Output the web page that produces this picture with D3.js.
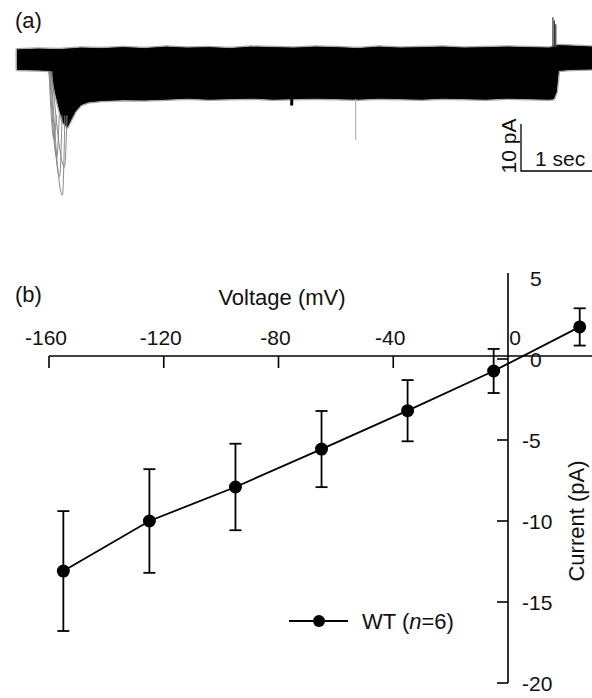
<!DOCTYPE html>
<html>
<head>
<meta charset="utf-8">
<script src="https://cdn.jsdelivr.net/npm/d3@7"></script>
<style>
  html, body { margin: 0; padding: 0; background: #fff; }
  svg { display: block; }
  text { font-family: "Liberation Sans", Arial, Helvetica, sans-serif; fill: #111; }
</style>
</head>
<body>
<svg id="chart" width="592" height="698"></svg>
<script>
// ---------- Panel (b) data: I-V relation ----------
const voltages = [-155, -125, -95, -65, -35, -5, 25];           // mV
const currents = [-13.09, -10.0, -7.9, -5.56, -3.19, -0.74, 1.98]; // pA
const sems     = [3.7, 3.2, 2.67, 2.35, 1.89, 1.36, 1.15];      // pA
const xTicks = [-160, -120, -80, -40, 0];
const yTicks = [-20, -15, -10, -5, 0, 5];
const seriesName = "WT";

// ---------- Panel (a) data: current trace envelope ----------
const upperTime = [0, 0.3, 0.6, 0.9, 1.2, 1.5, 1.8, 2.1, 2.4, 2.7, 3.0, 3.3, 3.6, 3.9, 4.2, 4.5, 4.8, 5.1, 5.4, 5.7, 6.0, 6.3, 6.6, 6.9, 7.2, 7.5, 7.56, 7.62, 7.8, 8.1];
const upperVal  = [2.0, 2.2, 2.1, 2.4, 2.3, 2.5, 2.3, 2.6, 2.4, 2.5, 2.3, 2.6, 2.5, 2.4, 2.6, 2.5, 2.3, 2.6, 2.4, 2.5, 2.6, 2.4, 2.5, 2.6, 2.5, 2.4, 2.6, 2.9, 2.8, 2.6];
const lowerTime = [0, 0.3, 0.45, 0.5, 0.55, 0.6, 0.65, 0.71, 0.76, 0.82, 0.9, 1.0, 1.2, 1.5, 1.8, 2.1, 2.4, 2.7, 3.0, 3.3, 3.6, 3.9, 4.2, 4.5, 4.8, 5.1, 5.4, 5.7, 6.0, 6.3, 6.6, 6.9, 7.2, 7.5, 7.56, 7.6, 7.63, 7.8, 8.1];
const lowerVal  = [-2.3, -2.4, -2.5, -4.5, -8.0, -11.0, -13.5, -14.5, -13.0, -11.2, -9.8, -9.2, -8.9, -8.7, -8.8, -8.6, -8.4, -8.6, -8.5, -8.4, -8.6, -8.5, -8.4, -8.5, -8.6, -8.4, -8.5, -8.6, -8.4, -8.5, -8.6, -8.4, -8.5, -8.6, -8.5, -7.0, -2.5, -2.3, -2.2];
// transient sweeps: start time, time of minimum, minimum current
const sweepStart = [0.45, 0.46, 0.47, 0.48, 0.49];
const sweepMinT  = [0.52, 0.56, 0.60, 0.64, 0.67];
const sweepMinI  = [-17, -21, -25, -29, -23];
// isolated events: time, from, to
const eventT    = [3.87, 4.77, 7.55, 7.57, 7.59];
const eventFrom = [-8.4, -8.5, 2.5, 2.5, 2.5];
const eventTo   = [-9.9, -17.2, 8.9, 8.2, 7.4];
const eventKind = ["blip", "faint", "spike", "spike", "spike"];

const svg = d3.select("#chart");

// ================= Panel (a) =================
const xT = d3.scaleLinear().domain([0, 8.1]).range([17, 592]);
const yT = d3.scaleLinear().domain([-30, 10]).range([200, 12]);

svg.append("text").attr("x", 15).attr("y", 28).style("font-size", "22px").text("(a)");

const upper = upperTime.map((t, i) => [t, upperVal[i]]);
const lower = lowerTime.map((t, i) => [t, lowerVal[i]]);
const bandPts = upper.concat(lower.slice().reverse());

// fuzzy fringe
svg.append("path")
  .attr("d", d3.line().x(d => xT(d[0])).y(d => yT(d[1]))(bandPts) + "Z")
  .attr("fill", "#000").attr("stroke", "#222").attr("stroke-width", 3)
  .attr("stroke-opacity", 0.4).attr("stroke-linejoin", "round");
// core band
svg.append("path")
  .attr("d", d3.line().x(d => xT(d[0])).y(d => yT(d[1]))(bandPts) + "Z")
  .attr("fill", "#000");

// transient sweeps
sweepStart.forEach((t0, i) => {
  const pts = [[t0, -2.6], [sweepMinT[i], sweepMinI[i]], [sweepMinT[i] + 0.035, -12]];
  svg.append("path")
    .attr("d", d3.line().x(d => xT(d[0])).y(d => yT(d[1])).curve(d3.curveMonotoneX)(pts))
    .attr("fill", "none").attr("stroke", "#8a8a8a").attr("stroke-width", 1);
});

// isolated events
eventT.forEach((t, i) => {
  const k = eventKind[i];
  svg.append("line")
    .attr("x1", xT(t)).attr("x2", xT(t))
    .attr("y1", yT(eventFrom[i])).attr("y2", yT(eventTo[i]))
    .attr("stroke", k === "faint" ? "#b5b5b5" : (k === "blip" ? "#000" : "#333"))
    .attr("stroke-width", k === "blip" ? 3 : 1.2);
});

// scale bar: 10 pA vertical, 1 sec horizontal
const sbX = 521, sbY = 171;
const pxPerPA = yT(0) - yT(1);
const pxPerSec = xT(1) - xT(0);
svg.append("path")
  .attr("d", `M${sbX},${sbY - 10 * pxPerPA}V${sbY}H${sbX + pxPerSec}`)
  .attr("fill", "none").attr("stroke", "#000").attr("stroke-width", 1.3);
svg.append("text")
  .attr("transform", `translate(${sbX - 5},${sbY - 25}) rotate(-90)`)
  .attr("text-anchor", "middle").style("font-size", "21px").text("10 pA");
svg.append("text").attr("x", sbX + 14).attr("y", sbY - 5)
  .style("font-size", "21px").text("1 sec");

// ================= Panel (b) =================
const x = d3.scaleLinear().domain([-160, 0]).range([49, 508]);
const y = d3.scaleLinear().domain([-20, 5]).range([683, 278]);
const axisY = 356;

svg.append("text").attr("x", 15).attr("y", 302).style("font-size", "22px").text("(b)");
svg.append("text").attr("x", 282).attr("y", 305).attr("text-anchor", "middle")
  .style("font-size", "22px").text("Voltage (mV)");

// x axis (ticks down, labels above)
const gx = svg.append("g");
gx.append("line").attr("x1", x(-160)).attr("x2", 592).attr("y1", axisY).attr("y2", axisY)
  .attr("stroke", "#000").attr("stroke-width", 1.6);
xTicks.forEach(v => {
  if (v !== 0) {
    gx.append("line").attr("x1", x(v)).attr("x2", x(v)).attr("y1", axisY).attr("y2", axisY + 12)
      .attr("stroke", "#000").attr("stroke-width", 1.6);
  }
  gx.append("text").attr("x", v === 0 ? x(v) + 7 : x(v) - 3).attr("y", axisY - 11)
    .attr("text-anchor", "middle").style("font-size", "21px").text(v);
});

// y axis (ticks left, labels right)
const gy = svg.append("g");
gy.append("line").attr("x1", x(0)).attr("x2", x(0)).attr("y1", 273).attr("y2", y(-20))
  .attr("stroke", "#000").attr("stroke-width", 1.6);
yTicks.forEach(v => {
  if (v !== 5) {
    gy.append("line").attr("x1", x(0) - 11).attr("x2", x(0)).attr("y1", y(v)).attr("y2", y(v))
      .attr("stroke", "#000").attr("stroke-width", 1.6);
  }
  gy.append("text").attr("x", v < 0 ? 522 : 530).attr("y", y(v)).attr("dy", "0.36em")
    .style("font-size", "21px").text(v);
});
svg.append("text")
  .attr("transform", `translate(584,${y(-10)}) rotate(-90)`)
  .attr("text-anchor", "middle").style("font-size", "22px").text("Current (pA)");

// error bars
const pts = voltages.map((v, i) => ({ v, c: currents[i], e: sems[i] }));
const eb = svg.append("g").attr("stroke", "#000").attr("stroke-width", 1.8);
pts.forEach(d => {
  eb.append("line").attr("x1", x(d.v)).attr("x2", x(d.v)).attr("y1", y(d.c + d.e)).attr("y2", y(d.c - d.e));
  eb.append("line").attr("x1", x(d.v) - 6).attr("x2", x(d.v) + 6).attr("y1", y(d.c + d.e)).attr("y2", y(d.c + d.e));
  eb.append("line").attr("x1", x(d.v) - 6).attr("x2", x(d.v) + 6).attr("y1", y(d.c - d.e)).attr("y2", y(d.c - d.e));
});

// line + markers
svg.append("path")
  .attr("d", d3.line().x(d => x(d.v)).y(d => y(d.c))(pts))
  .attr("fill", "none").attr("stroke", "#000").attr("stroke-width", 1.8);
svg.append("g").selectAll("circle").data(pts).join("circle")
  .attr("cx", d => x(d.v)).attr("cy", d => y(d.c)).attr("r", 6.5).attr("fill", "#000");

// legend
const lg = svg.append("g");
lg.append("line").attr("x1", 289).attr("x2", 348).attr("y1", 621).attr("y2", 621)
  .attr("stroke", "#000").attr("stroke-width", 1.8);
lg.append("circle").attr("cx", 319).attr("cy", 621).attr("r", 6).attr("fill", "#000");
const lt = lg.append("text").attr("x", 362).attr("y", 629).style("font-size", "22px");
lt.append("tspan").text(seriesName + " (");
lt.append("tspan").style("font-style", "italic").text("n");
lt.append("tspan").text("=6)");
</script>
</body>
</html>
